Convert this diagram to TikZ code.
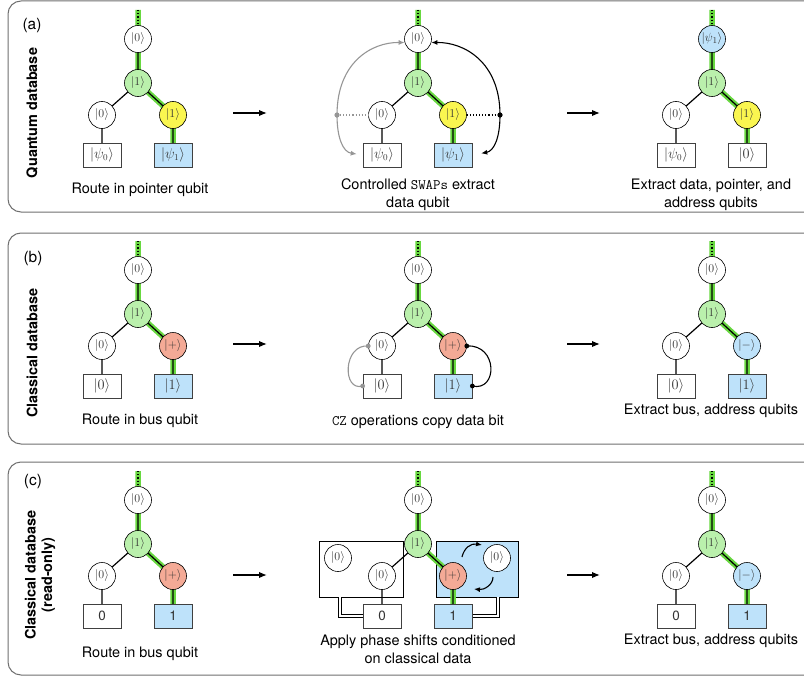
\documentclass[tikz,border=0pt]{standalone}
\usepackage{fontspec}
\newfontfamily\hv{TeX Gyre Heros}
\usetikzlibrary{arrows.meta}
\pgfdeclarelayer{back}
\pgfdeclarelayer{lines}
\pgfsetlayers{back,lines,main}
\definecolor{hgreen}{RGB}{104,216,64}
\definecolor{lgreen}{RGB}{186,240,172}
\definecolor{yel}{RGB}{250,246,80}
\definecolor{salmon}{RGB}{244,170,150}
\definecolor{lblue}{RGB}{190,226,250}
\definecolor{panelc}{RGB}{112,112,112}
\definecolor{arcgray}{RGB}{150,150,150}
\tikzset{
  qb/.style={circle, draw=black, line width=0.6bp, minimum size=27bp, inner sep=0pt,
    font=\fontsize{12.5}{12.5}\selectfont, text=black!80},
  dbox/.style={draw=black!75, line width=0.7bp, minimum width=38bp, minimum height=24bp,
    inner sep=0pt, font=\fontsize{13.5}{13.5}\selectfont, text=black!80},
  hl/.style={line width=5.5bp, draw=hgreen, line join=round},
  ln/.style={line width=1.2bp, draw=black},
  panelbox/.style={draw=panelc, line width=1bp, rounded corners=13bp},
  captext/.style={font=\hv\fontsize{14.5}{18}\selectfont, align=center, inner sep=0pt},
  sidelab/.style={font=\hv\bfseries\fontsize{14.5}{16.5}\selectfont, align=center, rotate=90, inner sep=0pt},
  plabel/.style={font=\hv\fontsize{15.5}{15.5}\selectfont, inner sep=0pt},
  stagearrow/.style={line width=1.5bp, -{Latex[length=8bp,width=6.5bp]}},
  garc/.style={line width=1.1bp, draw=arcgray, -{Latex[length=6bp,width=5bp]}},
  barc/.style={line width=1.1bp, draw=black, -{Latex[length=6bp,width=5bp]}},
  cwire/.style={double=white, draw=black, line width=0.7bp, double distance=2.6bp},
  pics/qtree/.style n args={7}{code={
    \node[qb,fill=#1] (-root) at (0,0) {#2};
    \node[qb,fill=lgreen] (-mid) at (0,44) {$|1\rangle$};
    \node[qb,fill=white] (-l) at (-36,76) {$|0\rangle$};
    \node[qb,fill=#3] (-r) at (35,76) {#4};
    \node[dbox,fill=white] (-lb) at (-36,116) {#5};
    \node[dbox,fill=#6] (-rb) at (35,116) {#7};
    \coordinate (-top) at (0,-29);
    \begin{pgfonlayer}{lines}
      \draw[hl] (-top) -- (-root.center) -- (-mid.center) -- (-r.center) -- (-rb.center);
      \draw[ln,dotted] (-top) -- (-root.center);
      \draw[ln] (-root.center) -- (-mid.center) -- (-l.center) -- (-lb.center);
      \draw[ln] (-mid.center) -- (-r.center) -- (-rb.center);
    \end{pgfonlayer}
  }}
}
\begin{document}
\begin{tikzpicture}[x=1bp,y=-1bp]
\useasboundingbox (0,0) rectangle (804,677);
\begin{pgfonlayer}{back}
  \fill[white] (0,0) rectangle (804,677);
  \draw[panelbox] (8,1) rectangle (830,212);
  \draw[panelbox] (8,233) rectangle (830,444);
  \draw[panelbox] (8,462) rectangle (830,675);
\end{pgfonlayer}

% ---------- panel (a)
\node[plabel] (la) at (32,26) {(a)};
\node[sidelab] (sa) at (32,113) {Quantum database};
\pic (A1) at (138,39) {qtree={white}{$|0\rangle$}{yel}{$|1\rangle$}{$|\psi_0\rangle$}{lblue}{$|\psi_1\rangle$}};
\pic (A2) at (418,39) {qtree={white}{$|0\rangle$}{yel}{$|1\rangle$}{$|\psi_0\rangle$}{lblue}{$|\psi_1\rangle$}};
\pic (A3) at (712,39) {qtree={lblue}{$|\psi_1\rangle$}{yel}{$|1\rangle$}{$|\psi_0\rangle$}{white}{$|0\rangle$}};
\node[captext] (capA1) at (140,190) {Route in pointer qubit};
\node[captext] (capA2) at (418,195) {Controlled {\ttfamily SWAPs} extract\\data qubit};
\node[captext] (capA3) at (711,195) {Extract data, pointer, and\\address qubits};
\coordinate (a1s) at (233,113); \coordinate (a1e) at (267,113);
\coordinate (a2s) at (567,113); \coordinate (a2e) at (600,113);
\draw[stagearrow] (a1s) -- (a1e);
\draw[stagearrow] (a2s) -- (a2e);
% swap arcs
\coordinate (ga) at (337,115);
\coordinate (ba) at (500,115);
\coordinate (gc1) at (337,62); \coordinate (gc2) at (372,42);
\coordinate (gc3) at (337,138); \coordinate (gc4) at (343,152);
\coordinate (bc1) at (500,62); \coordinate (bc2) at (464,42);
\coordinate (bc3) at (500,138); \coordinate (bc4) at (494,151);
\draw[line width=1.1bp, draw=arcgray, dotted] (ga) -- (A2-l);
\draw[line width=1.1bp, draw=black, dotted] (A2-r) -- (ba);
\draw[garc] (ga) .. controls (gc1) and (gc2) .. (A2-root.195);
\draw[garc, shorten >=6bp] (ga) .. controls (gc3) and (gc4) .. (A2-lb.west);
\draw[barc] (ba) .. controls (bc1) and (bc2) .. (A2-root.-15);
\draw[barc, shorten >=9bp] (ba) .. controls (bc3) and (bc4) .. (A2-rb.east);
\fill[arcgray] (ga) circle (2.6bp);
\fill[black] (ba) circle (2.6bp);

% ---------- panel (b)
\node[plabel] (lb) at (33,259) {(b)};
\node[sidelab] (sb) at (32,353) {Classical database};
\pic (B1) at (138,270) {qtree={white}{$|0\rangle$}{salmon}{$|{+}\rangle$}{$|0\rangle$}{lblue}{$|1\rangle$}};
\pic (B2) at (418,270) {qtree={white}{$|0\rangle$}{salmon}{$|{+}\rangle$}{$|0\rangle$}{lblue}{$|1\rangle$}};
\pic (B3) at (712,270) {qtree={white}{$|0\rangle$}{lblue}{$|{-}\rangle$}{$|0\rangle$}{lblue}{$|1\rangle$}};
\node[captext] (capB1) at (140,421) {Route in bus qubit};
\node[captext] (capB2) at (418,422) {{\ttfamily CZ} operations copy data bit};
\node[captext] (capB3) at (711,411) {Extract bus, address qubits};
\coordinate (b1s) at (233,344); \coordinate (b1e) at (267,344);
\coordinate (b2s) at (567,344); \coordinate (b2e) at (600,344);
\draw[stagearrow] (b1s) -- (b1e);
\draw[stagearrow] (b2s) -- (b2e);
\coordinate (cg1) at (343,344); \coordinate (cg2) at (342,392);
\coordinate (cb1) at (498,344); \coordinate (cb2) at (498,392);
\draw[line width=1.1bp, draw=arcgray] (B2-l.west) .. controls (cg1) and (cg2) .. (B2-lb.west);
\draw[line width=1.1bp, draw=black] (B2-r.east) .. controls (cb1) and (cb2) .. (B2-rb.east);
\fill[arcgray] (B2-l.west) circle (2.4bp);
\fill[arcgray] (B2-lb.west) circle (2.4bp);
\fill[black] (B2-r.east) circle (2.4bp);
\fill[black] (B2-rb.east) circle (2.4bp);

% ---------- panel (c)
\node[plabel] (lc) at (33,482) {(c)};
\node[sidelab] (sc) at (40,575) {Classical database\\(read-only)};
\begin{pgfonlayer}{back}
  \node[draw=black, line width=0.8bp, fill=white, minimum width=84bp, minimum height=56bp, inner sep=0pt] (C2-wr) at (361,569) {};
  \node[draw=black, line width=0.8bp, fill=lblue, minimum width=82bp, minimum height=56bp, inner sep=0pt] (C2-br) at (477,569) {};
\end{pgfonlayer}
\pic (C1) at (138,500) {qtree={white}{$|0\rangle$}{salmon}{$|{+}\rangle$}{\hv 0}{lblue}{\hv 1}};
\pic (C2) at (418,500) {qtree={white}{$|0\rangle$}{salmon}{$|{+}\rangle$}{\hv 0}{lblue}{\hv 1}};
\pic (C3) at (712,500) {qtree={white}{$|0\rangle$}{lblue}{$|{-}\rangle$}{\hv 0}{lblue}{\hv 1}};
\node[qb,fill=white] (C2-x1) at (338,558) {$|0\rangle$};
\node[qb,fill=white] (C2-x2) at (497,558) {$|0\rangle$};
\coordinate (wl) at (340,597);
\coordinate (wr) at (498,597);
\begin{pgfonlayer}{lines}
  \draw[cwire] (C2-lb.west) -| (wl);
  \draw[cwire] (C2-rb.east) -| (wr);
\end{pgfonlayer}
\coordinate (t1) at (462,557); \coordinate (t2) at (482,545);
\coordinate (tc1) at (464,548); \coordinate (tc2) at (471,543);
\coordinate (u1) at (493,577); \coordinate (u2) at (474,589);
\coordinate (uc1) at (493,585); \coordinate (uc2) at (484,590);
\draw[barc] (t1) .. controls (tc1) and (tc2) .. (t2);
\draw[barc] (u1) .. controls (uc1) and (uc2) .. (u2);
\node[captext] (capC1) at (140,654) {Route in bus qubit};
\node[captext] (capC2) at (418,649) {Apply phase shifts conditioned\\on classical data};
\node[captext] (capC3) at (711,641) {Extract bus, address qubits};
\coordinate (c1s) at (233,575); \coordinate (c1e) at (267,575);
\coordinate (c2s) at (567,575); \coordinate (c2e) at (600,575);
\draw[stagearrow] (c1s) -- (c1e);
\draw[stagearrow] (c2s) -- (c2e);
\end{tikzpicture}
\end{document}
